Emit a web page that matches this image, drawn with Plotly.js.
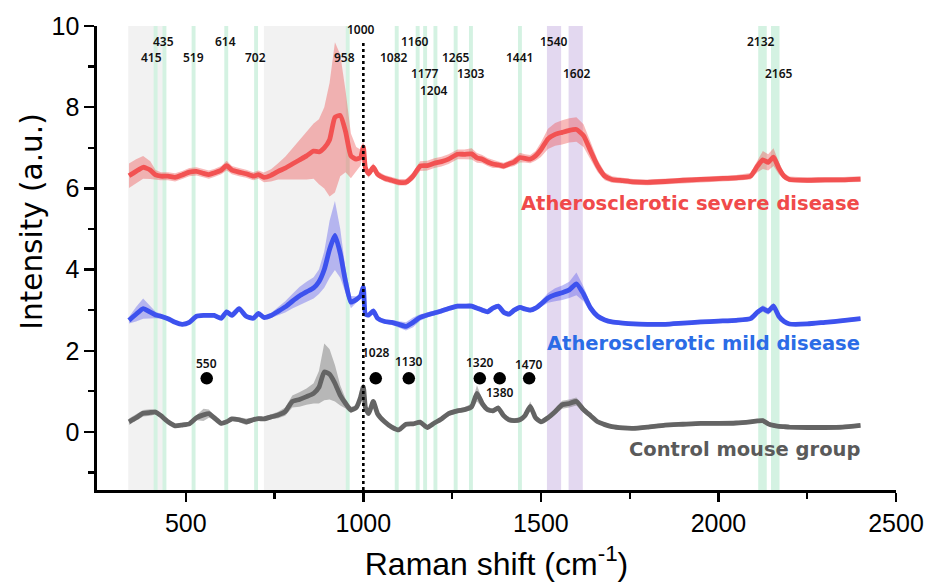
<!DOCTYPE html>
<html><head><meta charset="utf-8">
<script src="https://cdn.plot.ly/plotly-3.0.1.min.js"></script>
<style>html,body{margin:0;padding:0;background:#fff}#chart{width:936px;height:585px}</style>
</head><body><div id="chart"></div>
<script>
// ---------- data ----------
const wavenumber = [
  340, 360, 380, 400, 415, 430, 450, 470, 490, 510,
  530, 550, 565, 580, 600, 615, 630, 650, 670, 690,
  705, 720, 740, 760, 780, 800, 820, 840, 860, 875,
  890, 905, 920, 935, 950, 965, 980, 992, 1000, 1006,
  1015, 1028, 1040, 1060, 1080, 1100, 1120, 1140, 1160, 1180,
  1200, 1220, 1240, 1265, 1285, 1305, 1320, 1335, 1350, 1365,
  1380, 1395, 1410, 1425, 1441, 1455, 1470, 1485, 1500, 1520,
  1540, 1560, 1580, 1600, 1620, 1640, 1660, 1680, 1700, 1730,
  1760, 1800, 1850, 1900, 1950, 2000, 2050, 2090, 2110, 2125,
  2140, 2155, 2170, 2185, 2200, 2250, 2300, 2350, 2400];

const severeMean = [
  6.31, 6.42, 6.52, 6.45, 6.33, 6.30, 6.30, 6.27, 6.33, 6.40,
  6.42, 6.37, 6.34, 6.38, 6.45, 6.56, 6.45, 6.40, 6.36, 6.30,
  6.34, 6.27, 6.32, 6.42, 6.50, 6.60, 6.70, 6.80, 6.92, 6.90,
  7.00, 7.20, 7.75, 7.80, 7.40, 6.80, 6.72, 6.76, 7.02, 6.50,
  6.36, 6.52, 6.35, 6.25, 6.20, 6.15, 6.15, 6.30, 6.55, 6.56,
  6.62, 6.66, 6.72, 6.84, 6.84, 6.85, 6.75, 6.72, 6.65, 6.60,
  6.58, 6.55, 6.60, 6.65, 6.76, 6.74, 6.72, 6.80, 6.95, 7.22,
  7.33, 7.38, 7.43, 7.45, 7.30, 6.92, 6.55, 6.30, 6.22, 6.19,
  6.16, 6.15, 6.17, 6.20, 6.22, 6.24, 6.26, 6.30, 6.55, 6.70,
  6.64, 6.77, 6.50, 6.30, 6.22, 6.20, 6.21, 6.21, 6.23];
const severeSd = [
  0.30, 0.30, 0.28, 0.22, 0.12, 0.10, 0.10, 0.10, 0.10, 0.10,
  0.10, 0.10, 0.10, 0.10, 0.10, 0.12, 0.10, 0.10, 0.10, 0.10,
  0.10, 0.12, 0.15, 0.20, 0.28, 0.38, 0.48, 0.58, 0.68, 0.80,
  1.00, 1.40, 1.85, 1.50, 1.00, 0.55, 0.30, 0.20, 0.15, 0.12,
  0.10, 0.10, 0.08, 0.08, 0.08, 0.08, 0.08, 0.10, 0.12, 0.12,
  0.12, 0.12, 0.12, 0.12, 0.12, 0.14, 0.12, 0.10, 0.10, 0.10,
  0.08, 0.08, 0.08, 0.10, 0.12, 0.10, 0.10, 0.12, 0.18, 0.25,
  0.28, 0.30, 0.30, 0.30, 0.28, 0.22, 0.15, 0.10, 0.08, 0.07,
  0.07, 0.07, 0.07, 0.07, 0.07, 0.07, 0.07, 0.08, 0.15, 0.22,
  0.20, 0.22, 0.15, 0.08, 0.07, 0.07, 0.07, 0.07, 0.07];

const mildMean = [
  2.75, 2.90, 3.04, 2.95, 2.88, 2.85, 2.79, 2.70, 2.65, 2.70,
  2.85, 2.87, 2.87, 2.87, 2.80, 2.96, 2.87, 3.04, 2.85, 2.80,
  2.92, 2.82, 2.87, 2.97, 3.08, 3.22, 3.35, 3.45, 3.55, 3.70,
  4.00, 4.50, 4.84, 4.40, 3.70, 3.20, 3.26, 3.35, 3.57, 2.90,
  2.88, 2.98, 2.80, 2.72, 2.70, 2.65, 2.60, 2.70, 2.82, 2.88,
  2.93, 2.98, 3.04, 3.10, 3.10, 3.10, 3.05, 3.00, 2.96, 3.05,
  3.10, 2.95, 2.90, 3.00, 3.07, 3.03, 3.00, 3.05, 3.15, 3.30,
  3.38, 3.43, 3.50, 3.65, 3.40, 3.05, 2.85, 2.76, 2.71, 2.68,
  2.66, 2.65, 2.65, 2.68, 2.71, 2.73, 2.75, 2.79, 2.95, 3.04,
  2.97, 3.10, 2.85, 2.72, 2.66, 2.66, 2.70, 2.74, 2.79];
const mildSd = [
  0.08, 0.18, 0.25, 0.15, 0.08, 0.06, 0.05, 0.05, 0.05, 0.05,
  0.05, 0.05, 0.05, 0.05, 0.05, 0.05, 0.05, 0.05, 0.05, 0.05,
  0.05, 0.05, 0.06, 0.10, 0.14, 0.18, 0.22, 0.25, 0.26, 0.30,
  0.45, 0.70, 0.85, 0.60, 0.30, 0.15, 0.08, 0.06, 0.06, 0.05,
  0.05, 0.05, 0.05, 0.05, 0.06, 0.08, 0.10, 0.12, 0.08, 0.06,
  0.06, 0.06, 0.06, 0.06, 0.06, 0.06, 0.06, 0.06, 0.06, 0.06,
  0.06, 0.06, 0.06, 0.06, 0.06, 0.06, 0.06, 0.06, 0.08, 0.12,
  0.16, 0.18, 0.20, 0.28, 0.18, 0.10, 0.06, 0.05, 0.05, 0.05,
  0.05, 0.05, 0.05, 0.05, 0.05, 0.05, 0.05, 0.05, 0.06, 0.08,
  0.08, 0.08, 0.06, 0.05, 0.05, 0.05, 0.05, 0.05, 0.05];

const controlMean = [
  0.25, 0.35, 0.46, 0.48, 0.49, 0.40, 0.25, 0.15, 0.17, 0.20,
  0.35, 0.42, 0.45, 0.35, 0.21, 0.25, 0.32, 0.30, 0.25, 0.30,
  0.33, 0.32, 0.37, 0.42, 0.50, 0.75, 0.80, 0.87, 0.95, 1.10,
  1.48, 1.42, 1.20, 0.90, 0.70, 0.54, 0.60, 0.85, 1.11, 0.60,
  0.45, 0.75, 0.45, 0.25, 0.12, 0.05, 0.19, 0.20, 0.24, 0.11,
  0.22, 0.32, 0.45, 0.52, 0.55, 0.62, 0.95, 0.70, 0.55, 0.52,
  0.59, 0.40, 0.30, 0.28, 0.30, 0.40, 0.63, 0.35, 0.25, 0.35,
  0.50, 0.67, 0.70, 0.75, 0.55, 0.40, 0.25, 0.18, 0.13, 0.10,
  0.09, 0.12, 0.17, 0.19, 0.21, 0.21, 0.22, 0.25, 0.27, 0.28,
  0.20, 0.16, 0.14, 0.13, 0.12, 0.11, 0.11, 0.12, 0.16];
const controlSd = [
  0.08, 0.08, 0.08, 0.08, 0.06, 0.05, 0.05, 0.05, 0.05, 0.05,
  0.06, 0.15, 0.10, 0.05, 0.05, 0.05, 0.05, 0.06, 0.08, 0.05,
  0.05, 0.05, 0.06, 0.08, 0.10, 0.15, 0.18, 0.20, 0.25, 0.40,
  0.70, 0.62, 0.45, 0.25, 0.12, 0.08, 0.06, 0.08, 0.10, 0.06,
  0.05, 0.05, 0.05, 0.05, 0.05, 0.05, 0.05, 0.05, 0.05, 0.05,
  0.05, 0.05, 0.06, 0.06, 0.06, 0.08, 0.20, 0.10, 0.06, 0.06,
  0.06, 0.06, 0.06, 0.06, 0.06, 0.06, 0.12, 0.06, 0.05, 0.06,
  0.08, 0.10, 0.10, 0.10, 0.08, 0.06, 0.05, 0.05, 0.05, 0.05,
  0.05, 0.05, 0.05, 0.05, 0.05, 0.05, 0.05, 0.05, 0.05, 0.05,
  0.05, 0.05, 0.05, 0.05, 0.05, 0.05, 0.05, 0.05, 0.05];

// highlighted bands (cm-1)
const greenBandCenters = [415, 440, 522, 614, 698, 956, 1094, 1153, 1174, 1203, 1260, 1303, 1441];
const greenWideBandCenters = [2124, 2160];
const purpleBandCenters = [1537, 1598];
const greyRegionStart = [338, 720];
const greyRegionEnd = [440, 953];

// peak labels at the top
const topLabelText = ['1000','435','614','1160','1540','2132','415','519','702','958','1082','1265','1441','1177','1303','1602','2165','1204'];
const topLabelX    = [993, 436, 612, 1145, 1537, 2121, 404, 521, 696, 948, 1086, 1260, 1439, 1174, 1302, 1603, 2171, 1200];
const topLabelRow  = [0, 1, 1, 1, 1, 1, 2, 2, 2, 2, 2, 2, 2, 3, 3, 3, 3, 4];

// marker dots for control peaks
const dotLabels = ['550','1028','1130','1320','1380','1470'];
const dotX = [559, 1035, 1128, 1328, 1384, 1467];
const dotY = [1.32, 1.32, 1.32, 1.32, 1.32, 1.32];

const seriesNames = ['Atherosclerotic severe disease', 'Atherosclerotic mild disease', 'Control mouse group'];

// ---------- build ----------
const series = [
  {mean: severeMean, sd: severeSd, line: '#F25252', fill: 'rgba(238,80,80,0.40)'},
  {mean: mildMean, sd: mildSd, line: '#3D52EE', fill: 'rgba(90,90,235,0.40)'},
  {mean: controlMean, sd: controlSd, line: '#646464', fill: 'rgba(110,110,110,0.45)'}
];
const traces = [];
series.forEach(s => {
  const up = s.mean.map((m, i) => m + s.sd[i]);
  const lo = s.mean.map((m, i) => m - s.sd[i]);
  traces.push({x: wavenumber, y: up, mode: 'lines', line: {width: 0, color: s.fill}, hoverinfo: 'skip', showlegend: false});
  traces.push({x: wavenumber, y: lo, mode: 'lines', line: {width: 0, color: s.fill}, fill: 'tonexty', fillcolor: s.fill, hoverinfo: 'skip', showlegend: false});
});
series.forEach(s => {
  traces.push({x: wavenumber, y: s.mean, mode: 'lines', line: {width: 4.8, color: s.line, shape: 'spline', smoothing: 0.5}, showlegend: false});
});
traces.push({x: dotX, y: dotY, mode: 'markers', marker: {size: 12.5, color: '#000'}, showlegend: false});

const shapes = [];
greyRegionStart.forEach((s, i) => shapes.push({type: 'rect', xref: 'x', yref: 'paper', x0: s, x1: greyRegionEnd[i], y0: 0, y1: 1, fillcolor: '#F2F2F2', line: {width: 0}, layer: 'below'}));
greenBandCenters.forEach(c => shapes.push({type: 'rect', xref: 'x', yref: 'paper', x0: c - 5.5, x1: c + 5.5, y0: 0, y1: 1, fillcolor: '#D4F2E2', line: {width: 0}, layer: 'below'}));
greenWideBandCenters.forEach(c => shapes.push({type: 'rect', xref: 'x', yref: 'paper', x0: c - 12, x1: c + 12, y0: 0, y1: 1, fillcolor: '#D4F2E2', line: {width: 0}, layer: 'below'}));
purpleBandCenters.forEach(c => shapes.push({type: 'rect', xref: 'x', yref: 'paper', x0: c - 20, x1: c + 20, y0: 0, y1: 1, fillcolor: '#E3D8F0', line: {width: 0}, layer: 'below'}));
shapes.push({type: 'line', xref: 'x', yref: 'y', x0: 1000, x1: 1000, y0: -1.43, y1: 9.62, line: {color: '#000', width: 2.6, dash: 'dot'}});

const rowY = [9.92, 9.618, 9.225, 8.818, 8.41];
const annotations = [];
const labFont = {family: 'Noto Sans, DejaVu Sans, sans-serif', size: 12, color: '#111', weight: 600};
topLabelText.forEach((t, i) => annotations.push({x: topLabelX[i], y: rowY[topLabelRow[i]], text: t, showarrow: false, xanchor: 'center', yanchor: 'middle', font: labFont}));
const dotLabelY = [1.69, 1.95, 1.73, 1.71, 0.97, 1.67];
dotLabels.forEach((t, i) => annotations.push({x: dotX[i], y: dotLabelY[i], text: t, showarrow: false, xanchor: 'center', yanchor: 'middle', font: labFont}));
const nameY = [5.62, 2.17, -0.44];
const nameColor = ['#F04A4A', '#2B6CE6', '#5A5A5A'];
seriesNames.forEach((t, i) => annotations.push({x: 2405, y: nameY[i], text: t, showarrow: false, xanchor: 'right', yanchor: 'middle', font: {family: 'DejaVu Sans, sans-serif', size: 19.5, color: nameColor[i], weight: 'bold'}}));
// y-axis title (sits above the axis centre in the reference)
annotations.push({xref: 'paper', yref: 'paper', x: -0.0815, y: 0.578, text: 'Intensity (a.u.)', textangle: -90, showarrow: false, xanchor: 'center', yanchor: 'middle', font: {family: 'DejaVu Sans, sans-serif', size: 29.5, color: '#000'}});

const layout = {
  width: 936, height: 585,
  margin: {l: 97, r: 40, t: 26, b: 95},
  paper_bgcolor: '#fff', plot_bgcolor: '#fff',
  showlegend: false,
  xaxis: {
    range: [250, 2500], showgrid: false, zeroline: false,
    showline: true, linecolor: '#000', linewidth: 2.6,
    ticks: 'outside', ticklen: 9, tickwidth: 2.4, tickcolor: '#000',
    tickvals: [500, 1000, 1500, 2000, 2500],
    minor: {tickvals: [750, 1250, 1750, 2250], ticks: 'outside', ticklen: 6, tickwidth: 2.2, tickcolor: '#000'},
    tickfont: {family: 'Liberation Sans, Arial, sans-serif', size: 25, color: '#000'},
    title: {text: 'Raman shift (cm<sup>-1</sup>)', font: {family: 'Liberation Sans, Arial, sans-serif', size: 32, color: '#000'}, standoff: 17}
  },
  yaxis: {
    range: [-1.43, 10], showgrid: false, zeroline: false,
    showline: true, linecolor: '#000', linewidth: 2.6,
    ticks: 'outside', ticklen: 10, tickwidth: 2.4, tickcolor: '#000',
    tickvals: [0, 2, 4, 6, 8, 10],
    minor: {tickvals: [-1, 1, 3, 5, 7, 9], ticks: 'outside', ticklen: 6, tickwidth: 2.2, tickcolor: '#000'},
    tickfont: {family: 'Liberation Sans, Arial, sans-serif', size: 25, color: '#000'}
  },
  shapes: shapes,
  annotations: annotations
};
Plotly.newPlot('chart', traces, layout, {staticPlot: true, displayModeBar: false});
</script>
</body></html>
